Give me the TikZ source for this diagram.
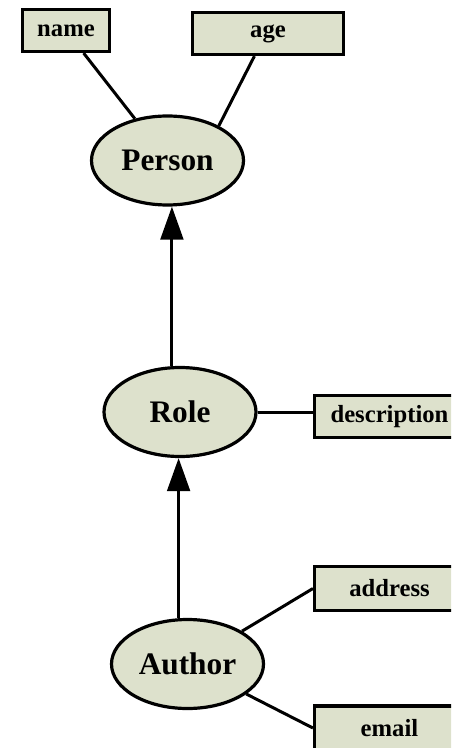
\documentclass[tikz,border=0pt]{standalone}
\usepackage{fontspec}
\setmainfont{Liberation Serif}
\usetikzlibrary{arrows.meta,shapes.geometric,calc}
\definecolor{erfill}{RGB}{221,225,204}
\tikzset{
  entity/.style={ellipse, draw, line width=2.4pt, fill=erfill, minimum width=114pt, minimum height=66.75pt, inner sep=0pt, font=\fontsize{23.5}{26}\selectfont\bfseries},
  attr/.style={rectangle, draw, line width=2.4pt, fill=erfill, minimum height=31.5pt, inner sep=0pt, font=\fontsize{18.5}{21}\selectfont\bfseries},
  link/.style={line width=2.25pt},
  isa/.style={line width=2.25pt, -{Triangle[length=24.75pt,width=17pt]}},
}
\begin{document}
\begin{tikzpicture}[x=0.75pt,y=-0.75pt]
\useasboundingbox (0,0) rectangle (451,748);
\clip (0,0) rectangle (451,748);
\node[entity] (person) at (167.5,160.5) {Person};
\node[entity] (role) at (180,412) {Role};
\node[entity] (author) at (187.5,664) {Author};
\node[attr, minimum width=65.25pt] (name) at (66,30.5) {name};
\node[attr, minimum width=113.25pt] (age) at (268,33.5) {age};
\node[attr, minimum width=112.5pt] (desc) at (389.5,416.5) {description};
\node[attr, minimum width=112.5pt, minimum height=33pt] (address) at (389.5,588.5) {address};
\node[attr, minimum width=112.5pt, minimum height=33pt] (email) at (389.5,728) {email};
\draw[link] (name) -- (person);
\draw[link] (age.239) -- (person.34);
\draw[link] (role) -- (role -| desc.west);
\draw[link] (author) -- (address.west);
\draw[link] (author) -- (email.west);
\draw[isa] (role.100) -- (role.100 |- person.south);
\draw[isa] (author.101.5) -- (author.101.5 |- role.south);
\end{tikzpicture}
\end{document}
